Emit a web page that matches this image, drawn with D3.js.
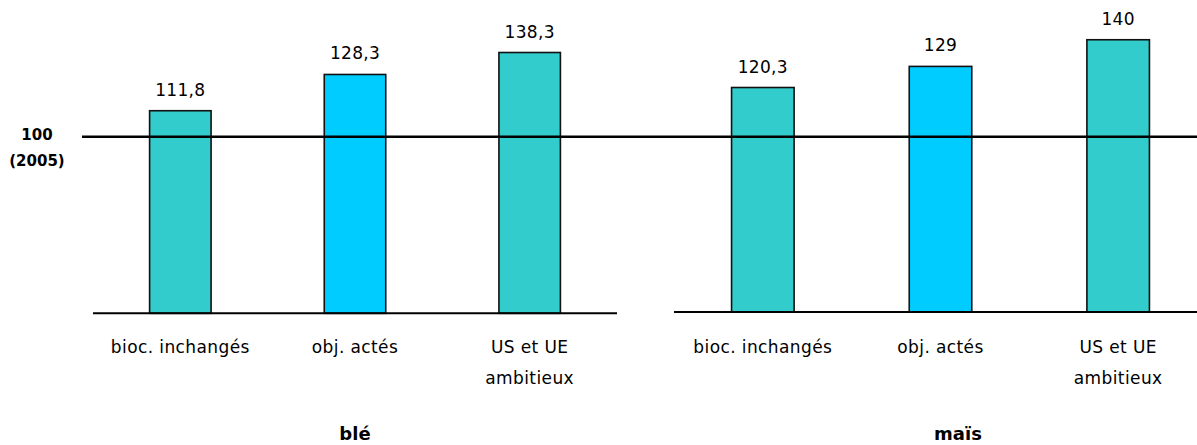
<!DOCTYPE html>
<html lang="fr">
<head>
<meta charset="utf-8">
<script src="https://cdn.jsdelivr.net/npm/d3@7"></script>
<style>
  html, body { margin: 0; padding: 0; background: #ffffff; }
  svg { display: block; }
  text { font-family: "DejaVu Sans", Verdana, sans-serif; fill: #000; }
</style>
</head>
<body>
<svg id="chart" width="1197" height="445"></svg>
<script>
// Scenario categories (multi-line labels under each bar)
const scenarios = ["bioc. inchangés", "obj. actés", "US et UE ambitieux"];
const scenarioLines = [["bioc. inchangés"], ["obj. actés"], ["US et UE", "ambitieux"]];
const scenarioColors = ["#33cccc", "#00ccff", "#33cccc"];

// Crops and their price indices (base 100 = 2005)
const crops = ["blé", "maïs"];
const bleValues = [111.8, 128.3, 138.3];
const maisValues = [120.3, 129, 140];

// Reference level
const referenceValue = 100;
const referenceLabel = ["100", "(2005)"];

const width = 1197, height = 445;
const svg = d3.select("#chart");

const fr = d3.formatLocale({ decimal: ",", thousands: " ", grouping: [3], currency: ["", " €"] });
const fmt = fr.format(".1~f");

// Each crop is drawn as its own small bar chart
const panels = [
  { crop: crops[0], values: bleValues, xRange: [93, 617], yDomain: [19.6, 150], yRange: [313.3, 26.8], titleX: 355 },
  { crop: crops[1], values: maisValues, xRange: [674, 1207], yDomain: [27.7, 150], yRange: [312, 15.5], titleX: 958 }
];

panels.forEach(p => {
  p.x = d3.scaleBand().domain(scenarios).range(p.xRange).paddingInner(0.648).paddingOuter(0.324);
  p.y = d3.scaleLinear().domain(p.yDomain).range(p.yRange);
});

// Bars
panels.forEach(p => {
  const g = svg.append("g");
  const rows = scenarios.map((s, i) => ({ s, v: p.values[i], color: scenarioColors[i], lines: scenarioLines[i] }));

  g.selectAll("rect").data(rows).join("rect")
    .attr("x", d => p.x(d.s))
    .attr("width", p.x.bandwidth())
    .attr("y", d => p.y(d.v))
    .attr("height", d => p.y(p.yDomain[0]) - p.y(d.v))
    .attr("fill", d => d.color)
    .attr("stroke", "#111")
    .attr("stroke-width", 1.6);

  // Value labels above bars
  g.selectAll("text.value").data(rows).join("text")
    .attr("class", "value")
    .attr("x", d => p.x(d.s) + p.x.bandwidth() / 2)
    .attr("y", d => p.y(d.v) - 15)
    .attr("text-anchor", "middle")
    .style("font-size", "17px")
    .style("letter-spacing", "0.3px")
    .text(d => fmt(d.v));

  // Baseline (category axis)
  g.append("line")
    .attr("x1", p.xRange[0]).attr("x2", Math.min(p.xRange[1], width))
    .attr("y1", p.y(p.yDomain[0])).attr("y2", p.y(p.yDomain[0]))
    .attr("stroke", "#000").attr("stroke-width", 2);

  // Category labels
  const cat = g.selectAll("text.cat").data(rows).join("text")
    .attr("class", "cat")
    .attr("text-anchor", "middle")
    .style("font-size", "17px")
    .style("letter-spacing", "0.4px");
  cat.selectAll("tspan").data(d => d.lines.map(l => ({ l, cx: p.x(d.s) + p.x.bandwidth() / 2 })))
    .join("tspan")
    .attr("x", d => d.cx)
    .attr("y", (d, i) => 353 + i * 31)
    .text(d => d.l);

  // Crop title
  g.append("text")
    .attr("x", p.titleX).attr("y", 440)
    .attr("text-anchor", "middle")
    .style("font-size", "18px").style("font-weight", "bold")
    .text(p.crop);
});

// Reference line at 100 across both panels
const yRef = panels[0].y(referenceValue);
svg.append("line")
  .attr("x1", 82).attr("x2", width)
  .attr("y1", yRef).attr("y2", yRef)
  .attr("stroke", "#000").attr("stroke-width", 2.5);

svg.append("text")
  .attr("text-anchor", "middle")
  .style("font-size", "15px").style("font-weight", "bold")
  .selectAll("tspan").data(referenceLabel).join("tspan")
  .attr("x", 37)
  .attr("y", (d, i) => yRef + 3 + i * 26)
  .text(d => d);
</script>
</body>
</html>
